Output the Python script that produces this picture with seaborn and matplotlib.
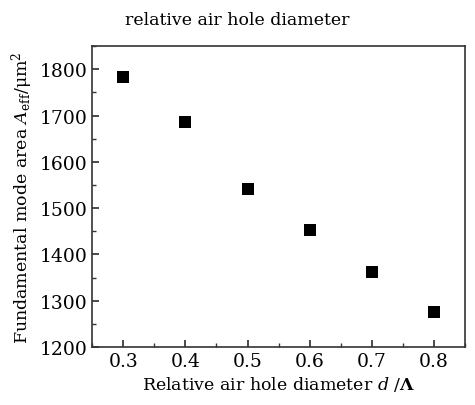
import matplotlib
matplotlib.use("Agg")
import matplotlib.pyplot as plt
import seaborn as sns
import pandas as pd
from matplotlib.ticker import MultipleLocator

d_ratio = [0.3, 0.4, 0.5, 0.6, 0.7, 0.8]
area = [1783, 1685, 1541, 1452, 1361, 1275]

sns.set_theme(style="ticks")
plt.rcParams['font.family'] = ['DejaVu Serif']
plt.rcParams['mathtext.fontset'] = 'dejavuserif'
plt.rcParams['text.color'] = 'black'
plt.rcParams['axes.labelcolor'] = 'black'
plt.rcParams['xtick.color'] = 'black'
plt.rcParams['ytick.color'] = 'black'

df = pd.DataFrame({"d": d_ratio, "A": area})
fig = plt.figure(figsize=(4.75, 4.06), dpi=100)
ax = fig.add_axes([0.194, 0.143, 0.785, 0.741])
sns.scatterplot(data=df, x="d", y="A", marker="s", s=75, color="black",
                edgecolor="black", linewidth=0, ax=ax)
ax.set_xlim(0.25, 0.85)
ax.set_ylim(1200, 1850)
ax.xaxis.set_major_locator(MultipleLocator(0.1))
ax.xaxis.set_minor_locator(MultipleLocator(0.05))
ax.yaxis.set_major_locator(MultipleLocator(100))
ax.yaxis.set_minor_locator(MultipleLocator(50))
ax.tick_params(which="both", direction="in", top=False, right=False, labelsize=13.5, color="#333333")
ax.tick_params(which="major", length=5)
ax.tick_params(which="minor", length=3)
for s in ax.spines.values():
    s.set_visible(True)
    s.set_color("#333333")
    s.set_linewidth(1.2)
ax.set_xticklabels([f"{v:.1f}" for v in ax.get_xticks()])
ax.set_xlim(0.25, 0.85)
ax.set_xlabel(r"Relative air hole diameter $d$ /$\mathbf{\Lambda}$", fontsize=12.5, labelpad=3)
ax.set_ylabel(r"Fundamental mode area $A_{\mathrm{eff}}$/μm$^2$", fontsize=12.5, labelpad=3)
fig.text(0.5, 0.95, "relative air hole diameter", ha="center", va="center", fontsize=12.5)
fig.savefig("out.png", dpi=100)
